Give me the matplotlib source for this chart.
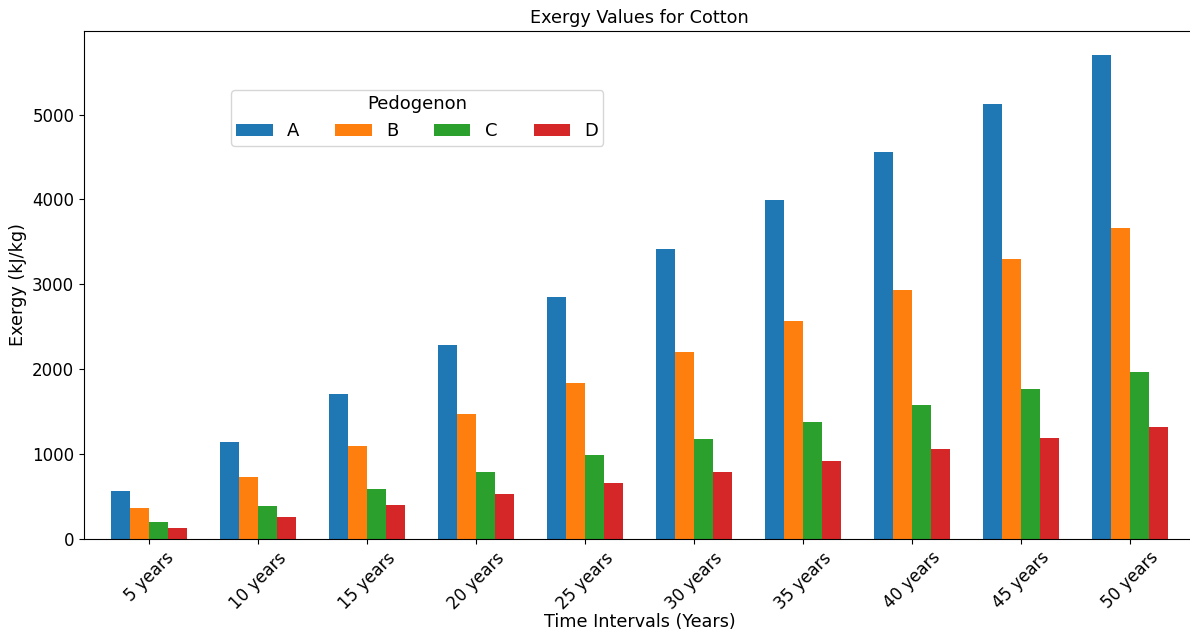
import matplotlib
matplotlib.use("Agg")
import matplotlib.pyplot as plt
import numpy as np

intervals = ["5 years", "10 years", "15 years", "20 years", "25 years",
             "30 years", "35 years", "40 years", "45 years", "50 years"]
pedogenons = ["A", "B", "C", "D"]

exergy_a = [570, 1140, 1710, 2280, 2850, 3420, 3990, 4560, 5130, 5700]
exergy_b = [367, 733, 1100, 1467, 1833, 2200, 2567, 2933, 3300, 3667]
exergy_c = [197, 394, 591, 788, 985, 1182, 1379, 1576, 1773, 1970]
exergy_d = [132, 264, 396, 528, 660, 792, 924, 1056, 1188, 1320]

series = [exergy_a, exergy_b, exergy_c, exergy_d]
colors = ["#1f77b4", "#ff7f0e", "#2ca02c", "#d62728"]

fig = plt.figure(figsize=(11.9, 6.32), dpi=100)
ax = fig.add_axes([84 / 1190, (632 - 539) / 632, 1111 / 1190, 508 / 632])

x = np.arange(len(intervals))
width = 0.175
for i, (name, vals, col) in enumerate(zip(pedogenons, series, colors)):
    ax.bar(x + (i - 1.5) * width, vals, width, label=name, color=col)

ax.set_xlim(-0.6, 9.6)
ax.set_xticks(x)
ax.set_xticklabels(intervals, rotation=45, fontsize=12)
ax.tick_params(axis="y", labelsize=12)
ax.set_xlabel("Time Intervals (Years)", fontsize=12.7)
ax.xaxis.set_label_coords(0.5, -0.146)
ax.set_ylabel("Exergy (kJ/kg)", fontsize=12.7)
ax.set_title("Exergy Values for Cotton", fontsize=12.7)

ax.legend(title="Pedogenon", ncol=4, fontsize=13, title_fontsize=13,
          loc="upper left", bbox_to_anchor=(231 / 1190, 1 - 90 / 632),
          bbox_transform=fig.transFigure, columnspacing=2.0,
          borderaxespad=0, borderpad=0.3)

fig.savefig("out.png", dpi=100)
